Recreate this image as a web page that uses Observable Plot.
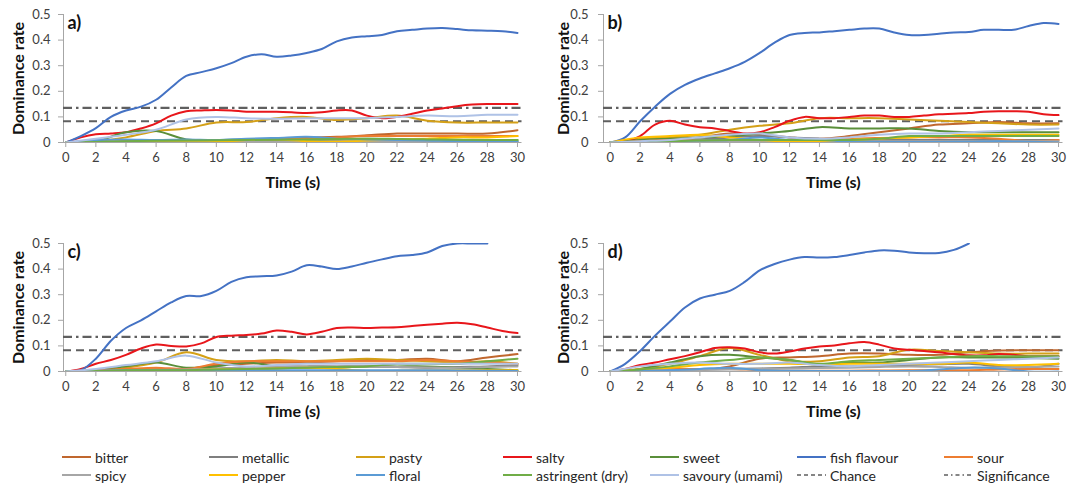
<!DOCTYPE html>
<html><head><meta charset="utf-8">
<script src="https://cdn.jsdelivr.net/npm/d3@7"></script>
<script src="https://cdn.jsdelivr.net/npm/@observablehq/plot@0.6"></script>
<style>
body{margin:0;background:#fff;}
#wrap{position:relative;width:1069px;height:483px;background:#fff;overflow:hidden;font-family:Lato,"Open Sans",sans-serif;}
.panel{position:absolute;}
.item{position:absolute;display:flex;align-items:center;font-size:14px;color:#262626;white-space:nowrap;height:18px;font-family:Lato,sans-serif;}
.item svg{margin-right:4px;flex:none}
</style></head><body><div id="wrap"></div>
<script>
// ---- categories ----
const tasteKeys = ["bitter","metallic","pasty","salty","sweet","fish","sour","spicy","pepper","floral","astringent","savoury"];
const tasteLabels = ["bitter","metallic","pasty","salty","sweet","fish flavour","sour","spicy","pepper","floral","astringent (dry)","savoury (umami)"];
const tasteColors = ["#C0672E","#7F7F7F","#D4A017","#E8161B","#5A8F3A","#4472C4","#ED7D31","#A6A6A6","#FFC000","#5B9BD5","#70AD47","#AFC2E6"];

// ---- time grids & ticks ----
const T1 = [0,1,2,3,4,5,6,7,8,9,10,11,12,13,14,15,16,17,18,19,20,21,22,23,24,25,26,27,28,29,30];
const T2 = [0,2,4,6,8,10,12,14,16,18,20,22,24,26,28,30];
const xTicks = [0,2,4,6,8,10,12,14,16,18,20,22,24,26,28,30];
const yTicks = [0,0.1,0.2,0.3,0.4,0.5];
const CHANCE = 0.083;
const SIGNIFICANCE = 0.135;

// ---- series values (31 values -> T1 grid, 16 values -> T2 grid) ----
const panelA = {
  bitter:    [0,0.002,0.005,0.005,0.005,0.007,0.01,0.015,0.02,0.022,0.028,0.035,0.035,0.035,0.035,0.048],
  metallic:  [0,0.002,0.003,0.003,0.003,0.003,0.004,0.005,0.005,0.005,0.005,0.005,0.005,0.005,0.005,0.005],
  pasty:     [0,0.005,0.02,0.045,0.055,0.078,0.08,0.095,0.1,0.088,0.095,0.105,0.085,0.078,0.078,0.078],
  salty:     [0,0.02,0.032,0.035,0.04,0.055,0.075,0.105,0.122,0.125,0.127,0.125,0.12,0.12,0.12,0.118,0.115,0.118,0.125,0.125,0.105,0.095,0.1,0.112,0.125,0.133,0.142,0.148,0.15,0.15,0.15],
  sweet:     [0,0.005,0.04,0.045,0.012,0.01,0.012,0.012,0.01,0.012,0.015,0.012,0.01,0.01,0.01,0.01],
  fish:      [0,0.025,0.056,0.1,0.125,0.14,0.167,0.215,0.26,0.275,0.29,0.31,0.335,0.345,0.335,0.34,0.35,0.365,0.395,0.41,0.415,0.42,0.435,0.44,0.445,0.447,0.443,0.438,0.437,0.435,0.428],
  sour:      [0,0.002,0.003,0.004,0.005,0.007,0.01,0.012,0.015,0.02,0.025,0.025,0.025,0.025,0.025,0.025],
  spicy:     [0,0.001,0.002,0.002,0.002,0.003,0.003,0.003,0.004,0.004,0.004,0.004,0.004,0.004,0.004,0.004],
  pepper:    [0,0.001,0.001,0.001,0.001,0.002,0.01,0.012,0.005,0.003,0.008,0.012,0.015,0.02,0.02,0.025],
  floral:    [0,0.01,0.012,0.01,0.012,0.01,0.015,0.018,0.022,0.015,0.012,0.01,0.008,0.005,0.005,0.005],
  astringent:[0,0.002,0.005,0.007,0.008,0.009,0.01,0.011,0.012,0.014,0.015,0.014,0.012,0.011,0.01,0.01],
  savoury:   [0,0.015,0.03,0.05,0.09,0.1,0.095,0.093,0.095,0.095,0.095,0.1,0.105,0.103,0.108,0.108]
};
const panelB = {
  bitter:    [0,0.002,0.005,0.02,0.035,0.03,0.02,0.015,0.025,0.04,0.055,0.07,0.075,0.08,0.075,0.075],
  metallic:  [0,0.005,0.008,0.012,0.02,0.025,0.02,0.015,0.01,0.01,0.01,0.01,0.01,0.01,0.01,0.01],
  pasty:     [0,0.015,0.02,0.03,0.05,0.065,0.075,0.095,0.095,0.095,0.09,0.085,0.08,0.075,0.07,0.07],
  salty:     [0,0.003,0.025,0.07,0.085,0.07,0.06,0.055,0.045,0.035,0.04,0.06,0.085,0.1,0.095,0.095,0.1,0.105,0.105,0.1,0.1,0.105,0.11,0.112,0.115,0.12,0.122,0.122,0.12,0.11,0.107],
  sweet:     [0,0.01,0.015,0.02,0.025,0.035,0.045,0.06,0.055,0.055,0.055,0.045,0.04,0.04,0.04,0.04],
  fish:      [0,0.02,0.083,0.14,0.19,0.225,0.25,0.27,0.29,0.315,0.35,0.39,0.42,0.428,0.43,0.435,0.44,0.445,0.445,0.43,0.42,0.42,0.425,0.43,0.432,0.44,0.44,0.44,0.455,0.467,0.463],
  sour:      [0,0.005,0.01,0.01,0.01,0.01,0.01,0.012,0.015,0.018,0.02,0.02,0.02,0.015,0.005,0.01],
  spicy:     [0,0.002,0.003,0.004,0.005,0.005,0.005,0.005,0.005,0.005,0.005,0.005,0.005,0.005,0.005,0.005],
  pepper:    [0,0.02,0.025,0.03,0.02,0.01,0.003,0.002,0.01,0.015,0.02,0.025,0.03,0.03,0.03,0.03],
  floral:    [0,0.002,0.005,0.008,0.01,0.02,0.01,0.01,0.003,0.002,0.002,0.002,0.003,0.005,0.003,0],
  astringent:[0,0.002,0.005,0.008,0.01,0.01,0.01,0.01,0.01,0.015,0.025,0.025,0.025,0.025,0.025,0.025],
  savoury:   [0,0.005,0.01,0.02,0.03,0.035,0.02,0.015,0.02,0.03,0.035,0.035,0.04,0.045,0.05,0.055]
};
const panelC = {
  bitter:    [0,0.002,0.005,0.008,0.01,0.025,0.03,0.035,0.035,0.04,0.045,0.045,0.05,0.04,0.055,0.068],
  metallic:  [0,0.002,0.005,0.008,0.01,0.012,0.015,0.018,0.02,0.02,0.02,0.018,0.015,0.018,0.02,0.025],
  pasty:     [0,0.005,0.015,0.035,0.075,0.045,0.04,0.045,0.04,0.045,0.05,0.045,0.04,0.035,0.04,0.03],
  salty:     [0,0.01,0.03,0.045,0.065,0.09,0.105,0.1,0.098,0.11,0.135,0.14,0.143,0.148,0.16,0.155,0.145,0.155,0.17,0.172,0.17,0.172,0.173,0.178,0.183,0.187,0.19,0.185,0.172,0.158,0.15],
  sweet:     [0,0.005,0.02,0.035,0.015,0.02,0.035,0.02,0.015,0.015,0.02,0.02,0.02,0.015,0.01,0.005],
  fish:      [0,0.005,0.05,0.12,0.17,0.2,0.235,0.27,0.295,0.295,0.315,0.35,0.368,0.372,0.375,0.39,0.415,0.41,0.4,0.41,0.425,0.438,0.45,0.455,0.465,0.49,0.5,0.5,0.5,null,null],
  sour:      [0,0.005,0.01,0.015,0.01,0.03,0.04,0.04,0.04,0.04,0.04,0.04,0.045,0.04,0.035,0.03],
  spicy:     [0,0.002,0.004,0.006,0.008,0.01,0.015,0.02,0.02,0.02,0.02,0.018,0.016,0.015,0.018,0.02],
  pepper:    [0,0.002,0.003,0.004,0.005,0.008,0.01,0.012,0.015,0.01,0.002,0.003,0.004,0.005,0.005,0.005],
  floral:    [0,0.003,0.005,0.005,0.005,0.005,0.005,0.005,0.005,0.005,0.005,0.005,0.005,0.004,0.003,0.002],
  astringent:[0,0.002,0.005,0.005,0.005,0.008,0.01,0.012,0.015,0.018,0.02,0.03,0.03,0.03,0.04,0.05],
  savoury:   [0,0.01,0.025,0.04,0.062,0.035,0.02,0.025,0.03,0.03,0.03,0.03,0.03,0.03,0.03,0.03]
};
const panelD = {
  bitter:    [0,0.002,0.003,0.005,0.02,0.05,0.055,0.06,0.07,0.07,0.065,0.065,0.075,0.082,0.083,0.083],
  metallic:  [0,0.002,0.005,0.008,0.01,0.012,0.015,0.02,0.02,0.022,0.025,0.028,0.03,0.02,0.015,0.03],
  pasty:     [0,0.01,0.03,0.06,0.092,0.065,0.04,0.04,0.055,0.06,0.085,0.08,0.075,0.07,0.07,0.07],
  salty:     [0,0.01,0.025,0.035,0.048,0.06,0.075,0.092,0.095,0.09,0.075,0.07,0.078,0.09,0.098,0.102,0.11,0.115,0.105,0.09,0.085,0.08,0.075,0.068,0.063,0.063,0.068,0.065,0.06,0.06,0.06],
  sweet:     [0,0.01,0.035,0.06,0.065,0.055,0.045,0.025,0.035,0.035,0.045,0.055,0.055,0.055,0.053,0.05],
  fish:      [0,0.03,0.08,0.14,0.195,0.25,0.285,0.3,0.315,0.35,0.395,0.42,0.437,0.447,0.445,0.447,0.455,0.465,0.473,0.472,0.465,0.462,0.463,0.475,0.5,null,null,null,null,null,null],
  sour:      [0,0.005,0.01,0.01,0.01,0.005,0.003,0.003,0.003,0.004,0.005,0.005,0.005,0.008,0.01,0.01],
  spicy:     [0,0.002,0.005,0.006,0.008,0.01,0.012,0.014,0.015,0.018,0.02,0.018,0.015,0.016,0.018,0.02],
  pepper:    [0,0.008,0.015,0.025,0.03,0.03,0.03,0.028,0.03,0.03,0.03,0.03,0.035,0.025,0.025,0.03],
  floral:    [0,0.003,0.005,0.01,0.015,0.005,0.003,0.002,0.002,0.002,0.002,0.008,0.015,0.012,0,0],
  astringent:[0,0.008,0.02,0.035,0.045,0.055,0.045,0.03,0.04,0.045,0.05,0.055,0.06,0.06,0.06,0.06],
  savoury:   [0,0.02,0.03,0.035,0.03,0.03,0.035,0.025,0.02,0.025,0.03,0.035,0.04,0.045,0.05,0.055]
};

// ---- layout ----
const panels = [
  {data: panelA, label: "a)", left: 0,   top: 0,   width: 534, ml: 63, mr: 12.5, xmin: -0.15, titleX: 18, pad: 8},
  {data: panelB, label: "b)", left: 534, top: 0,   width: 535, ml: 69, mr: 6.5,  xmin: -0.45, titleX: 29, pad: 10},
  {data: panelC, label: "c)", left: 0,   top: 229, width: 534, ml: 63, mr: 12.5, xmin: -0.15, titleX: 18, pad: 8},
  {data: panelD, label: "d)", left: 534, top: 229, width: 535, ml: 69, mr: 6.5,  xmin: -0.45, titleX: 29, pad: 10}
];

const wrap = document.getElementById("wrap");
const axisGray = "#A6A6A6";
const textGray = "#404040";

for (const p of panels) {
  const rows = [];
  tasteKeys.forEach((k, i) => {
    const vals = p.data[k];
    const T = vals.length === T1.length ? T1 : T2;
    vals.forEach((v, j) => rows.push({taste: tasteLabels[i], t: T[j], v}));
  });
  const chart = Plot.plot({
    width: p.width, height: 200,
    marginLeft: p.ml, marginRight: p.mr, marginTop: 14, marginBottom: 58,
    style: {fontFamily: "Lato, sans-serif", fontSize: "13px", color: textGray, background: "transparent", overflow: "visible"},
    x: {domain: [p.xmin, 30.3]},
    y: {domain: [0, 0.5]},
    color: {domain: tasteLabels, range: tasteColors},
    marks: [
      Plot.axisX({ticks: xTicks, tickSize: 5, tickPadding: 5, stroke: axisGray, fill: textGray, label: null}),
      Plot.axisY({ticks: yTicks, tickSize: 5, tickPadding: p.pad, stroke: axisGray, fill: textGray, label: null,
                  tickFormat: d => String(d)}),
      Plot.ruleX([p.xmin], {stroke: axisGray, strokeWidth: 1}),
      Plot.ruleY([0], {stroke: axisGray, strokeWidth: 1}),
      Plot.ruleY([CHANCE], {stroke: "#5F5F5F", strokeWidth: 2.2, strokeDasharray: "8,5"}),
      Plot.ruleY([SIGNIFICANCE], {stroke: "#5F5F5F", strokeWidth: 2.2, strokeDasharray: "9,4,2.5,4"}),
      Plot.line(rows, {x: "t", y: "v", z: "taste", stroke: "taste", strokeWidth: 2, curve: "catmull-rom", clip: true}),
      Plot.text([p.label], {text: d => d, frameAnchor: "top-left", dx: 4, dy: 2, lineAnchor: "top", textAnchor: "start",
                 fontWeight: "bold", fontSize: 18, fill: "#111"}),
      Plot.text(["Time (s)"], {text: d => d, frameAnchor: "bottom", dy: 40, lineAnchor: "middle",
                 fontWeight: "bold", fontSize: 16, fill: "#111"}),
      Plot.text(["Dominance rate"], {text: d => d, frameAnchor: "left", dx: p.titleX - p.ml, rotate: -90,
                 textAnchor: "middle", lineAnchor: "middle", fontWeight: "bold", fontSize: 16, fill: "#111"})
    ]
  });
  chart.classList.add("panel");
  chart.style.left = p.left + "px";
  chart.style.top = p.top + "px";
  wrap.appendChild(chart);
}

// ---- legend ----
const legendLabels = [...tasteLabels, "Chance", "Significance"];
const legendColors = [...tasteColors, "#5F5F5F", "#5F5F5F"];
const legendDash = [...tasteLabels.map(() => null), "4,3", "4,3,1.5,3"];
legendLabels.forEach((lab, i) => {
  const col = i % 7, row = Math.floor(i / 7);
  const div = document.createElement("div");
  div.className = "item";
  div.style.left = (62 + col * 147) + "px";
  div.style.top = (448 + row * 18) + "px";
  const dash = legendDash[i];
  div.innerHTML = `<svg width="29" height="10"><line x1="0" x2="29" y1="5" y2="5" stroke="${legendColors[i]}" stroke-width="${dash ? 1.6 : 2}" ${dash ? `stroke-dasharray="${dash}"` : ""}/></svg><span>${lab}</span>`;
  wrap.appendChild(div);
});
</script></body></html>
